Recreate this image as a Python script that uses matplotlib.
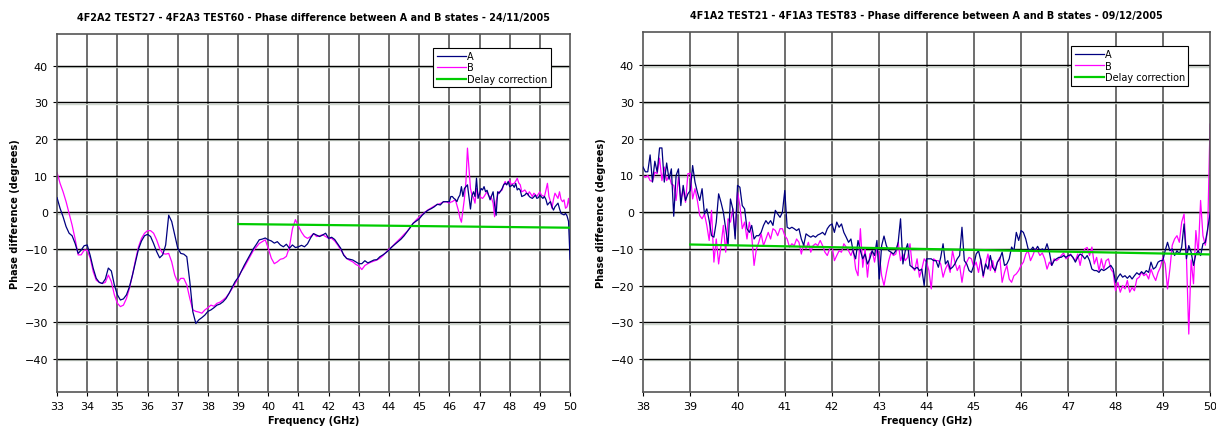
import numpy as np
import matplotlib
matplotlib.use('Agg')
import matplotlib.pyplot as plt

# ---- left chart: 24/11/2005 ----
left_title = '4F2A2 TEST27 - 4F2A3 TEST60 - Phase difference between A and B states - 24/11/2005'
# 33.0 .. 45.9 GHz every 0.1, then 46.0 .. 50.0 every 0.05
left_freq = np.concatenate([np.arange(330, 460) / 10.0, np.arange(920, 1001) / 20.0])

left_a = [
    4.0, 1.1, -1.2, -3.9, -5.7, -6.4, -8.5, -11.2, -10.3, -9.1,
    -8.9, -11.8, -15.3, -18.0, -19.1, -19.4, -18.2, -15.2, -16.0, -19.8,
    -22.5, -23.9, -23.6, -22.5, -20.3, -17.1, -13.5, -10.0, -7.8, -6.4,
    -6.0, -6.6, -8.5, -10.7, -12.4, -11.6, -8.9, -0.8, -2.5, -6.2,
    -9.8, -11.2, -11.4, -12.1, -18.9, -27.1, -30.3, -29.3, -28.7, -28.0,
    -27.0, -26.6, -26.0, -25.3, -25.0, -24.4, -23.5, -22.1, -20.5, -18.9,
    -17.8, -16.2, -14.5, -13.0, -11.5, -10.0, -8.8, -7.5, -7.3, -7.0,
    -7.5, -7.8, -8.4, -8.0, -8.9, -9.4, -8.7, -9.8, -8.9, -9.6,
    -9.4, -9.0, -9.4, -8.6, -7.0, -5.8, -6.2, -6.6, -6.2, -5.7,
    -7.1, -6.8, -7.4, -8.6, -9.8, -11.7, -12.6, -12.8, -13.0, -13.5,
    -14.0, -14.0, -13.2, -13.8, -13.4, -13.0, -12.9, -12.1, -11.6, -11.0,
    -10.3, -9.4, -8.7, -8.0, -7.3, -6.4, -5.3, -4.2, -3.0, -2.4,
    -1.8, -0.8, 0.0, 0.6, 1.0, 1.5, 2.2, 2.0, 2.9, 2.9,
    # 46.00 .. 50.00
    2.9, 4.3, 4.3, 3.8, 3.5, 2.9, 4.0, 4.7, 7.0, 4.3, 6.5, 7.0, 7.5, 4.3, 0.9, 4.5, 5.6, 4.3, 9.3, 3.8,
    5.0, 6.5, 6.1, 7.0, 5.6, 6.0, 4.7, 3.4, 4.5, 5.6, 2.0, -0.8, 5.6, 5.2, 5.8, 6.5, 7.5, 7.9, 7.5, 8.4,
    7.0, 7.2, 7.5, 6.8, 7.9, 6.1, 6.5, 6.0, 4.3, 4.5, 4.7, 5.2, 5.0, 4.3, 4.0, 3.8, 4.2, 4.7, 3.8, 4.0,
    4.7, 4.2, 3.8, 4.3, 3.5, 2.0, 2.5, 2.9, 1.5, 0.6, 1.5, 2.0, 2.5, 1.0, -0.3, -0.5, -0.7, -0.3, -1.0, -2.5,
    -12.8,
]

left_b = [
    10.9, 7.9, 5.6, 2.9, -0.3, -3.5, -7.3, -11.6, -11.6, -10.3,
    -10.3, -12.5, -16.2, -18.5, -19.1, -19.4, -19.1, -17.1, -18.9, -22.5,
    -24.8, -25.7, -25.3, -23.5, -20.7, -17.1, -13.0, -9.4, -7.1, -5.7,
    -5.0, -5.0, -5.7, -7.5, -9.8, -11.2, -11.4, -11.2, -13.5, -17.1,
    -19.1, -18.0, -18.0, -19.8, -23.5, -26.6, -27.0, -27.2, -27.5, -26.6,
    -26.0, -25.3, -25.6, -24.8, -24.5, -23.9, -23.2, -22.1, -20.8, -19.4,
    -18.0, -16.2, -15.0, -13.5, -12.0, -10.5, -9.5, -8.5, -8.0, -7.5,
    -9.8, -12.5, -14.0, -13.5, -12.8, -12.6, -12.0, -9.5, -4.5, -2.0,
    -3.8, -5.4, -6.6, -7.1, -6.6, -5.8, -6.6, -6.4, -6.1, -6.6,
    -7.1, -7.1, -7.8, -8.9, -10.2, -11.5, -12.6, -13.1, -13.5, -14.2,
    -14.6, -15.6, -14.5, -14.0, -13.6, -13.3, -13.0, -12.5, -11.8, -10.9,
    -10.0, -9.4, -8.5, -7.7, -6.9, -6.0, -5.2, -4.1, -3.0, -2.1,
    -1.3, -0.6, 0.1, 0.7, 1.2, 1.7, 2.1, 2.4, 2.8, 2.9,
    # 46.00 .. 50.00
    2.5, 2.8, 2.9, 3.2, 3.4, 2.0, 0.5, -1.5, -2.7, 0.5, 3.8, 8.4, 17.5, 12.0, 6.5, 4.7, 4.0, 2.5, 6.5, 5.0,
    4.7, 4.0, 3.8, 4.3, 5.0, 5.6, 4.5, 4.3, 3.8, 2.5, -1.2, 3.0, 4.7, 5.6, 5.8, 6.1, 7.5, 8.4, 7.5, 8.0,
    8.8, 7.5, 7.8, 7.9, 8.5, 9.3, 8.0, 7.5, 5.6, 5.8, 6.1, 5.5, 4.7, 5.6, 5.0, 4.3, 5.2, 4.8, 4.3, 5.0,
    5.6, 4.7, 4.5, 4.3, 6.0, 7.9, 4.3, 3.0, 1.1, 3.5, 5.2, 4.5, 3.8, 5.6, 3.5, 2.9, 3.4, 1.1, 1.5, 3.8,
    0.6,
]

left_delay_freq = [39.0, 50.0]
left_delay = [-3.2, -4.2]

# ---- right chart: 09/12/2005 ----
right_title = '4F1A2 TEST21 - 4F1A3 TEST83 - Phase difference between A and B states - 09/12/2005'
right_freq = np.arange(760, 1001) / 20.0  # 38.00 .. 50.00 every 0.05

right_a = [
    12.3, 11.0, 11.0, 15.6, 8.2, 13.9, 10.9, 17.5, 17.5, 8.2, 13.4, 9.0, 11.8, -1.1, 10.0, 11.8, 1.8, 7.3, 3.2, 5.0,
    5.9, 12.7, 8.2, 5.5, 3.2, 6.4, -0.5, 0.9, -2.3, -6.4, -6.8, -2.7, 5.0, 2.7, 0.0, -4.5, -9.0, 3.6, 0.9, -7.3,
    7.3, 6.8, 1.8, 0.9, -4.5, -5.5, -3.6, -7.3, -6.4, -6.4, -5.5, -3.6, -2.3, -3.2, -2.3, -3.6, 0.5, -0.5, -1.4, 0.0,
    5.9, -4.1, -4.5, -4.1, -4.5, -5.0, -4.5, -7.3, -9.0, -5.9, -6.4, -6.8, -6.4, -6.8, -6.2, -5.9, -5.5, -6.2, -4.5, -3.6,
    -3.2, -5.5, -2.7, -4.1, -3.2, -5.5, -6.8, -8.2, -7.3, -10.9, -12.7, -7.7, -10.5, -12.7, -11.4, -14.1, -12.7, -10.5, -11.8, -7.7,
    -18.2, -9.1, -6.5, -9.1, -10.5, -10.9, -11.4, -10.5, -8.2, -1.8, -14.1, -10.5, -8.6, -14.5, -15.0, -15.5, -15.0, -15.9, -15.5, -20.0,
    -12.7, -12.7, -12.7, -13.2, -13.2, -15.0, -12.3, -8.6, -14.1, -13.2, -15.5, -15.0, -14.1, -12.7, -11.8, -4.1, -13.2, -14.1, -15.9, -16.4,
    -14.5, -11.4, -10.5, -13.2, -17.3, -14.1, -15.5, -11.8, -15.0, -15.9, -13.6, -12.7, -10.9, -14.5, -14.1, -12.7, -9.5, -10.5, -5.5, -7.7,
    -5.0, -5.5, -7.3, -10.0, -10.5, -9.5, -10.5, -9.3, -10.5, -10.0, -10.5, -8.6, -10.9, -14.5, -13.2, -12.7, -12.3, -12.3, -11.8, -12.3,
    -11.8, -11.6, -12.3, -13.6, -12.3, -11.4, -11.8, -12.7, -11.8, -13.2, -15.5, -15.9, -15.9, -16.4, -15.5, -15.9, -15.5, -15.0, -14.5, -15.5,
    -19.1, -17.7, -16.8, -17.7, -17.3, -18.0, -17.3, -18.2, -17.3, -16.5, -17.0, -16.2, -16.8, -15.9, -16.4, -13.6, -15.5, -15.0, -13.6, -13.2,
    -13.2, -10.5, -8.2, -10.5, -10.0, -11.8, -10.5, -11.4, -9.5, -3.2, -12.7, -9.1, -10.9, -14.5, -11.4, -10.5, -11.8, -8.6, -8.2, -4.5,
    -0.5,
]

right_b = [
    10.0, 9.5, 10.0, 8.6, 8.4, 10.9, 10.5, 14.7, 8.6, 12.3, 8.6, 10.0, 7.7, 7.3, 3.2, 9.5, 3.6, 5.9, 2.7, 10.5,
    10.6, 3.6, 6.4, 3.2, -0.9, -1.8, -0.5, -3.6, -7.7, 0.5, -13.6, -7.3, -14.1, -9.1, -3.6, -10.9, -1.8, -2.7, 0.9, -6.4,
    5.5, 1.8, -4.5, -2.7, -7.3, -2.7, -6.4, -14.5, -10.0, -8.2, -5.9, -9.1, -7.3, -5.5, -7.3, -4.5, -5.0, -6.4, -4.5, -4.5,
    -6.4, -7.3, -9.5, -8.6, -9.1, -7.3, -8.2, -11.4, -8.6, -10.0, -8.2, -10.9, -9.1, -8.6, -9.1, -7.7, -9.1, -10.9, -11.8, -10.0,
    -9.1, -13.2, -11.8, -10.5, -10.9, -8.6, -9.5, -10.5, -11.8, -10.0, -15.5, -17.3, -4.5, -15.0, -10.0, -17.7, -11.4, -10.5, -13.6, -10.0,
    -11.4, -17.3, -20.0, -16.4, -13.2, -10.9, -11.8, -11.4, -8.2, -13.2, -11.4, -13.2, -12.3, -8.6, -15.0, -15.9, -12.7, -17.7, -15.5, -12.7,
    -13.6, -15.9, -20.9, -12.7, -13.2, -13.2, -14.1, -17.7, -15.5, -14.1, -16.4, -10.5, -13.6, -15.9, -14.5, -19.1, -15.0, -13.6, -12.3, -12.7,
    -15.0, -13.6, -16.4, -12.7, -17.7, -14.1, -11.4, -15.9, -13.2, -16.4, -13.6, -12.3, -19.1, -16.4, -14.5, -18.2, -19.1, -17.3, -16.8, -15.9,
    -14.5, -13.6, -11.4, -10.5, -13.2, -11.8, -10.0, -10.5, -11.8, -11.1, -12.7, -15.5, -13.6, -14.5, -12.7, -13.2, -12.7, -11.8, -11.1, -12.7,
    -12.3, -11.4, -12.5, -13.2, -11.4, -14.5, -11.1, -10.0, -9.6, -11.8, -9.5, -14.1, -12.3, -15.9, -12.7, -15.5, -13.2, -12.7, -15.5, -16.4,
    -21.4, -19.1, -21.8, -20.0, -20.9, -18.6, -21.8, -20.5, -21.4, -18.2, -17.7, -16.4, -17.3, -16.8, -18.2, -15.5, -17.3, -18.6, -16.4, -15.0,
    -12.3, -14.1, -20.9, -15.5, -9.0, -7.3, -6.4, -8.2, -2.7, -0.5, -12.0, -33.2, -13.0, -19.5, -5.0, -11.4, 3.2, -6.4, -9.0, -5.0,
    24.0,
]

right_delay_freq = [39.0, 50.0]
right_delay = [-8.8, -11.5]

color_a = '#000080'
color_b = '#ff00ff'
color_delay = '#00cc00'


def draw_panel(ax, title, freq, a, b, dfreq, delay, xmin, ylim):
    ax.plot(freq, a, color=color_a, lw=0.9, label='A', zorder=3)
    ax.plot(freq, b, color=color_b, lw=0.9, label='B', zorder=2)
    ax.plot(dfreq, delay, color=color_delay, lw=1.6, label='Delay correction', zorder=4)

    ax.set_xlim(xmin, 50)
    ax.set_ylim(*ylim)
    ax.set_xticks(np.arange(xmin, 51, 1))
    ax.set_yticks(np.arange(-40, 41, 10))
    ax.tick_params(axis='both', labelsize=8, length=3, width=0.8)

    for x in range(xmin + 1, 50):
        ax.axvline(x, color='#555555', lw=1.2, zorder=1)
    for y in range(-40, 41, 10):
        ax.axhline(y - 0.35, color='#cfd8cf', lw=1.0, zorder=1)
        ax.axhline(y, color='black', lw=1.0, zorder=1)
    for s in ax.spines.values():
        s.set_color('#555555')
        s.set_linewidth(1.2)

    ax.set_title(title, fontsize=6.9, fontweight='bold', pad=10)
    ax.set_xlabel('Frequency (GHz)', fontsize=7, fontweight='bold', labelpad=3)
    ax.set_ylabel('Phase difference (degrees)', fontsize=7, fontweight='bold', labelpad=3)

    leg = ax.legend(loc='upper right', bbox_to_anchor=(0.962, 0.962), borderaxespad=0,
                    fontsize=7, fancybox=False, framealpha=1, edgecolor='black',
                    handlelength=3.0, handletextpad=0.1, labelspacing=0.15,
                    borderpad=0.35)
    leg.get_frame().set_linewidth(0.8)


fig = plt.figure(figsize=(12.16, 4.27), dpi=100)
ax1 = fig.add_axes([0.0469, 0.0803, 0.4219, 0.8377])
ax2 = fig.add_axes([0.5288, 0.0803, 0.4663, 0.8417])

draw_panel(ax1, left_title, left_freq, left_a, left_b, left_delay_freq, left_delay, 33, (-48.9, 48.6))
draw_panel(ax2, right_title, right_freq, right_a, right_b, right_delay_freq, right_delay, 38, (-48.9, 49.0))

plt.savefig('out.png', dpi=100)
